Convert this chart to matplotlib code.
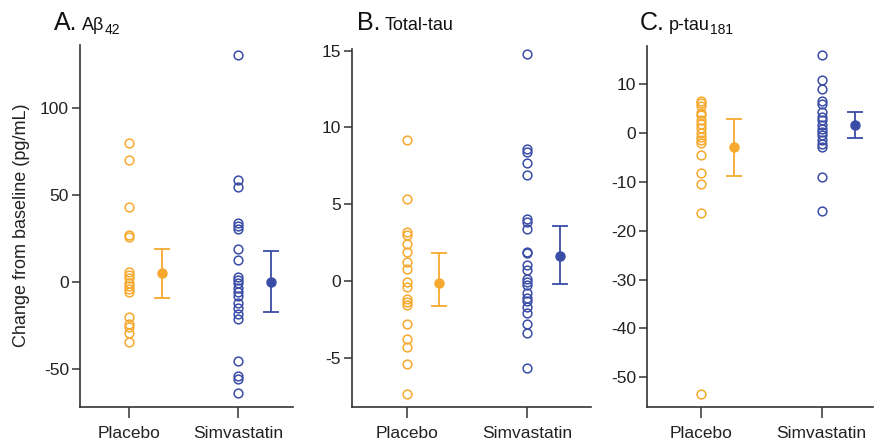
import matplotlib
matplotlib.use("Agg")
import matplotlib.pyplot as plt

plt.rcParams['font.family'] = ['Liberation Sans', 'DejaVu Sans']
plt.rcParams['axes.unicode_minus'] = False

# data (change from baseline)
groups = ['Placebo', 'Simvastatin']

abeta_placebo = [80, 70, 43, 27, 26, 5.5, 4, 2, -0.5, -2.5, -4, -6, -20, -24, -26, -29.5, -34.5]
abeta_simva = [130.5, 58.6, 54.2, 33.7, 32.2, 30.5, 18.8, 12.5, 2.7, 1.1, -0.8, -3.6, -5.6,
               -8, -11.9, -15.1, -18.4, -21.5, -45.4, -54, -55.9, -64]
abeta_mean = [5, 0]
abeta_lo = [-9.4, -17.6]
abeta_hi = [18.8, 17.6]

ttau_placebo = [9.2, 5.3, 3.2, 3.0, 2.4, 1.9, 1.2, 0.8, -0.1, -0.4, -1.2, -1.4, -1.6, -2.8,
                -3.8, -4.3, -5.4, -7.4]
ttau_simva = [14.8, 8.6, 8.4, 7.7, 6.9, 4.0, 3.8, 3.4, 1.9, 1.8, 1.0, 0.7, 0.1, -0.1, -0.3,
              -0.8, -1.1, -1.3, -1.7, -2.1, -2.8, -3.4, -5.7]
ttau_mean = [-0.15, 1.6]
ttau_lo = [-1.65, -0.2]
ttau_hi = [1.8, 3.6]

ptau_placebo = [6.6, 6.1, 5.6, 4.1, 3.6, 2.6, 1.8, 1.1, 0, -0.8, -1.4, -2.0, -4.6, -8.2,
                -10.4, -16.4, -53.4]
ptau_simva = [15.9, 10.9, 9.1, 6.5, 6.0, 4.3, 3.3, 2.6, 1.6, 0.9, 0.2, -0.5, -1.4, -2.2,
              -2.9, -9.1, -16]
ptau_mean = [-2.9, 1.6]
ptau_lo = [-8.8, -1.0]
ptau_hi = [2.9, 4.2]

orange = '#F6A92E'
blue = '#3A4DA6'
axcol = '#333333'

fig = plt.figure(figsize=(8.8, 4.43), dpi=100)

W, H = 880, 443
def box(l, r, t, b):
    return [l / W, 1 - b / H, (r - l) / W, (b - t) / H]

panels = [
    dict(rect=box(80, 293, 45, 406.7), xlim=(-0.452, 1.502), ylim=(-71.7, 136),
         yticks=[-50, 0, 50, 100], pl=abeta_placebo, sv=abeta_simva,
         mean=abeta_mean, lo=abeta_lo, hi=abeta_hi, off=0.30),
    dict(rect=box(352, 591, 49, 406.7), xlim=(-0.454, 1.528), ylim=(-8.2, 15.1),
         yticks=[-5, 0, 5, 10, 15], pl=ttau_placebo, sv=ttau_simva,
         mean=ttau_mean, lo=ttau_lo, hi=ttau_hi, off=0.27),
    dict(rect=box(647, 873, 46, 406.7), xlim=(-0.447, 1.425), ylim=(-56, 17.8),
         yticks=[-50, -40, -30, -20, -10, 0, 10], pl=ptau_placebo, sv=ptau_simva,
         mean=ptau_mean, lo=ptau_lo, hi=ptau_hi, off=0.275),
]

for p in panels:
    ax = fig.add_axes(p['rect'])
    ax.plot([0] * len(p['pl']), p['pl'], 'o', mfc='none', mec=orange, ms=6.3, mew=1.1, clip_on=False)
    ax.plot([1] * len(p['sv']), p['sv'], 'o', mfc='none', mec=blue, ms=6.3, mew=1.1, clip_on=False)
    for i, c in enumerate([orange, blue]):
        m = p['mean'][i]
        ax.errorbar(i + p['off'], m, yerr=[[m - p['lo'][i]], [p['hi'][i] - m]], fmt='o',
                    color=c, ms=6.5, elinewidth=1.3, capsize=6, capthick=1.3)
    ax.set_xlim(*p['xlim'])
    ax.set_ylim(*p['ylim'])
    ax.set_yticks(p['yticks'])
    ax.set_xticks([0, 1])
    ax.set_xticklabels(groups)
    for s in ['top', 'right']:
        ax.spines[s].set_visible(False)
    for s in ['left', 'bottom']:
        ax.spines[s].set_color(axcol)
        ax.spines[s].set_linewidth(1.2)
    ax.tick_params(axis='y', length=6, width=1.1, color=axcol, labelsize=12.5, pad=2,
                   labelcolor='#222222')
    ax.tick_params(axis='x', length=8, width=1.1, color=axcol, labelsize=12.5, pad=6,
                   labelcolor='#222222')

fig.text(22 / W, 1 - 225 / H, 'Change from baseline (pg/mL)', rotation=90, va='center',
         ha='center', fontsize=13, color='#222222')

# panel titles
narrow = ['Liberation Sans Narrow', 'Liberation Sans', 'DejaVu Sans']
def title(x, big, small, sub):
    yb = 1 - 29.5 / H
    t = fig.text(x / W, yb, big, fontsize=18, family=narrow, va='baseline', color='#111111')
    fig.canvas.draw()
    bb = t.get_window_extent()
    t2 = fig.text((bb.x1 + 4) / W, yb, small, fontsize=13, family=narrow, va='baseline',
                  color='#111111')
    fig.canvas.draw()
    bb2 = t2.get_window_extent()
    if sub:
        fig.text((bb2.x1 + 0.5) / W, yb - 5 / H, sub, fontsize=10, family=narrow,
                 va='baseline', color='#111111')

title(54, 'A.', 'Aβ', '42')
title(357, 'B.', 'Total-tau', '')
title(640, 'C.', 'p-tau', '181')

fig.savefig('out.png', dpi=100)
